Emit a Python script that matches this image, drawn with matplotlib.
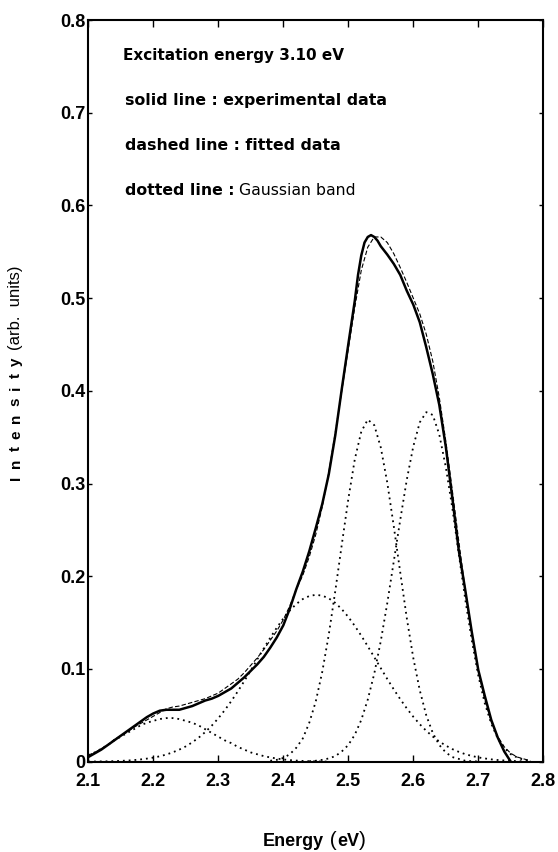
import numpy as np
import matplotlib
matplotlib.use("Agg")
import matplotlib.pyplot as plt

plt.rcParams['font.family'] = ['Liberation Sans', 'DejaVu Sans']

# photon energy grid (eV) for the fitted curve and the Gaussian bands
energy = [2.10, 2.11, 2.12, 2.13, 2.14, 2.15, 2.16, 2.17, 2.18, 2.19,
          2.20, 2.21, 2.22, 2.23, 2.24, 2.25, 2.26, 2.27, 2.28, 2.29,
          2.30, 2.31, 2.32, 2.33, 2.34, 2.35, 2.36, 2.37, 2.38, 2.39,
          2.40, 2.41, 2.42, 2.43, 2.44, 2.45, 2.46, 2.47, 2.48, 2.49,
          2.50, 2.51, 2.52, 2.53, 2.54, 2.55, 2.56, 2.57, 2.58, 2.59,
          2.60, 2.61, 2.62, 2.63, 2.64, 2.65, 2.66, 2.67, 2.68, 2.69,
          2.70, 2.71, 2.72, 2.73, 2.74, 2.75, 2.76, 2.77, 2.78]

# solid line : experimental data
exp_energy = [2.10, 2.11, 2.12, 2.13, 2.14, 2.15, 2.16, 2.17, 2.18, 2.19,
              2.20, 2.21, 2.22, 2.23, 2.24, 2.25, 2.26, 2.27, 2.28, 2.29,
              2.30, 2.31, 2.32, 2.33, 2.34, 2.35, 2.36, 2.37, 2.38, 2.39,
              2.40, 2.41, 2.42, 2.43, 2.44, 2.45, 2.46, 2.47, 2.48, 2.49,
              2.50, 2.51, 2.515, 2.52, 2.525, 2.53, 2.535, 2.54, 2.545, 2.55,
              2.56, 2.57, 2.58, 2.59, 2.60, 2.61, 2.62, 2.63, 2.64, 2.65,
              2.66, 2.67, 2.68, 2.69, 2.70, 2.71, 2.72, 2.73, 2.74, 2.75]
experimental = [0.005, 0.009, 0.013, 0.018, 0.023, 0.028, 0.033, 0.038, 0.043, 0.048,
                0.052, 0.055, 0.056, 0.056, 0.056, 0.058, 0.060, 0.063, 0.066, 0.068,
                0.071, 0.075, 0.079, 0.085, 0.091, 0.098, 0.105, 0.113, 0.123, 0.134,
                0.147, 0.165, 0.186, 0.205, 0.227, 0.252, 0.278, 0.310, 0.352, 0.402,
                0.450, 0.497, 0.525, 0.546, 0.560, 0.566, 0.568, 0.566, 0.562, 0.556,
                0.547, 0.537, 0.525, 0.508, 0.493, 0.474, 0.447, 0.418, 0.385, 0.340,
                0.285, 0.228, 0.185, 0.140, 0.099, 0.071, 0.045, 0.026, 0.011, 0.000]

# dashed line : fitted data
fitted = [0.007, 0.010, 0.014, 0.018, 0.024, 0.028, 0.032, 0.037, 0.041, 0.045,
          0.049, 0.053, 0.057, 0.059, 0.060, 0.062, 0.064, 0.066, 0.068, 0.071,
          0.074, 0.079, 0.084, 0.089, 0.096, 0.104, 0.112, 0.121, 0.131, 0.141,
          0.153, 0.168, 0.186, 0.201, 0.221, 0.245, 0.275, 0.312, 0.355, 0.400,
          0.445, 0.490, 0.530, 0.555, 0.566, 0.566, 0.560, 0.548, 0.533, 0.517,
          0.500, 0.483, 0.461, 0.432, 0.393, 0.346, 0.293, 0.238, 0.185, 0.138,
          0.098, 0.067, 0.043, 0.027, 0.016, 0.009, 0.005, 0.003, 0.001]

# dotted lines : Gaussian bands
band1 = [0.007, 0.010, 0.014, 0.018, 0.023, 0.027, 0.031, 0.035, 0.039, 0.042,
         0.044, 0.046, 0.047, 0.047, 0.046, 0.044, 0.042, 0.039, 0.035, 0.031,
         0.027, 0.023, 0.020, 0.016, 0.013, 0.010, 0.008, 0.006, 0.0046, 0.0034,
         0.0024, 0.0017, 0.0012, 0.0008, 0.0005, 0.0003, 0.0002, 0.0001, None, None,
         None, None, None, None, None, None, None, None, None, None,
         None, None, None, None, None, None, None, None, None, None,
         None, None, None, None, None, None, None, None, None]

band2 = [0.0001, 0.0002, 0.0003, 0.0004, 0.0006, 0.0009, 0.0012, 0.0017, 0.0024, 0.0033,
         0.0044, 0.0058, 0.0077, 0.0101, 0.0130, 0.0165, 0.0209, 0.0260, 0.0320, 0.0389,
         0.0468, 0.0556, 0.0653, 0.0758, 0.0869, 0.0985, 0.1104, 0.1222, 0.1337, 0.1445,
         0.1544, 0.1630, 0.1701, 0.1754, 0.1787, 0.1800, 0.1791, 0.1762, 0.1713, 0.1645,
         0.1562, 0.1465, 0.1359, 0.1245, 0.1127, 0.1009, 0.0892, 0.0780, 0.0674, 0.0575,
         0.0485, 0.0404, 0.0333, 0.0271, 0.0218, 0.0174, 0.0136, 0.0106, 0.0081, 0.0062,
         0.0046, 0.0035, 0.0025, 0.0018, 0.0013, 0.0009, 0.0006, 0.0004, 0.0003]

band3 = [None, None, None, None, None, None, None, None, None, None,
         None, None, None, None, None, None, None, None, None, None,
         None, None, None, None, None, None, None, None, 0.001, 0.002,
         0.004, 0.008, 0.015, 0.025, 0.042, 0.065, 0.097, 0.137, 0.184, 0.234,
         0.283, 0.326, 0.356, 0.369, 0.363, 0.339, 0.301, 0.254, 0.204, 0.155,
         0.112, 0.077, 0.050, 0.031, 0.018, 0.010, 0.005, 0.003, 0.001, 0.0005,
         0.0002, None, None, None, None, None, None, None, None]

band4 = [None, None, None, None, None, None, None, None, None, None,
         None, None, None, None, None, None, None, None, None, None,
         None, None, None, None, None, None, None, None, None, None,
         None, None, None, None, 0.0005, 0.001, 0.002, 0.0035, 0.006, 0.011,
         0.018, 0.029, 0.045, 0.067, 0.095, 0.130, 0.171, 0.216, 0.261, 0.304,
         0.340, 0.366, 0.377, 0.374, 0.353, 0.318, 0.274, 0.224, 0.175, 0.131,
         0.093, 0.063, 0.041, 0.025, 0.015, 0.008, 0.0045, 0.002, 0.001]

x_ticks = [2.1, 2.2, 2.3, 2.4, 2.5, 2.6, 2.7, 2.8]
x_tick_labels = ["2.1", "2.2", "2.3", "2.4", "2.5", "2.6", "2.7", "2.8"]
y_ticks = [0, 0.1, 0.2, 0.3, 0.4, 0.5, 0.6, 0.7, 0.8]
y_tick_labels = ["0", "0.1", "0.2", "0.3", "0.4", "0.5", "0.6", "0.7", "0.8"]

x = np.array(energy, dtype=float)

fig = plt.figure(figsize=(5.58, 8.52), dpi=100)
ax = fig.add_axes([0.1582, 0.1060, 0.8154, 0.8705])

for band in [band1, band2, band3, band4]:
    ax.plot(x, np.array(band, dtype=float), color='black', lw=1.3, dashes=(1, 2.2))
ax.plot(x, np.array(fitted, dtype=float), color='black', lw=0.8, dashes=(4, 2))
ax.plot(exp_energy, experimental, color='black', lw=1.8,
        solid_capstyle='round', solid_joinstyle='round')

ax.set_xlim(2.1, 2.8)
ax.set_ylim(0, 0.8)
ax.set_xticks(x_ticks)
ax.set_xticklabels(x_tick_labels, fontsize=13, fontweight='bold')
ax.set_yticks(y_ticks)
ax.set_yticklabels(y_tick_labels, fontsize=13, fontweight='bold')
ax.tick_params(axis='x', direction='in', length=5, width=1, top=True, pad=8)
ax.tick_params(axis='y', direction='in', length=3, width=1, right=True, pad=2)
for s in ax.spines.values():
    s.set_linewidth(1.5)

# notes inside the plot
note = dict(family='DejaVu Sans', fontweight='bold', fontsize=11.3)
ax.text(2.153, 0.757, "Excitation energy 3.10 eV", family='DejaVu Sans',
        fontweight='bold', fontsize=11)
ax.text(2.156, 0.708, "solid line : experimental data", **note)
ax.text(2.156, 0.660, "dashed line : fitted data", **note)
t = ax.text(2.156, 0.611, "dotted line :", **note)
ax.annotate(" Gaussian band", xy=(1, 0), xycoords=t, va='bottom',
            family='DejaVu Sans', fontsize=11.3)

# x label
t1 = fig.text(0.4713, 0.007, "Energy", fontsize=13, fontweight='bold')
t2 = ax.annotate(" (", xy=(1, 0), xycoords=t1, va='bottom', fontsize=15)
t3 = ax.annotate("eV", xy=(1, 0), xycoords=t2, va='bottom', fontsize=13, fontweight='bold')
ax.annotate(")", xy=(1, 0), xycoords=t3, va='bottom', fontsize=15)

# y label, letter-spaced "Intensity"
prev = fig.text(0.041, 0.4366, "I", fontsize=11, fontweight='bold',
                rotation=90, ha='right', va='bottom')
for ch in "ntensity":
    prev = ax.annotate(ch, xy=(1, 1), xycoords=prev, xytext=(0, 5.4),
                       textcoords='offset points', rotation=90,
                       ha='right', va='bottom', fontsize=11, fontweight='bold')
ax.annotate("(arb.  units)", xy=(1, 1), xycoords=prev, xytext=(0, 5),
            textcoords='offset points', rotation=90,
            ha='right', va='bottom', fontsize=12)

fig.savefig("out.png", dpi=100)
